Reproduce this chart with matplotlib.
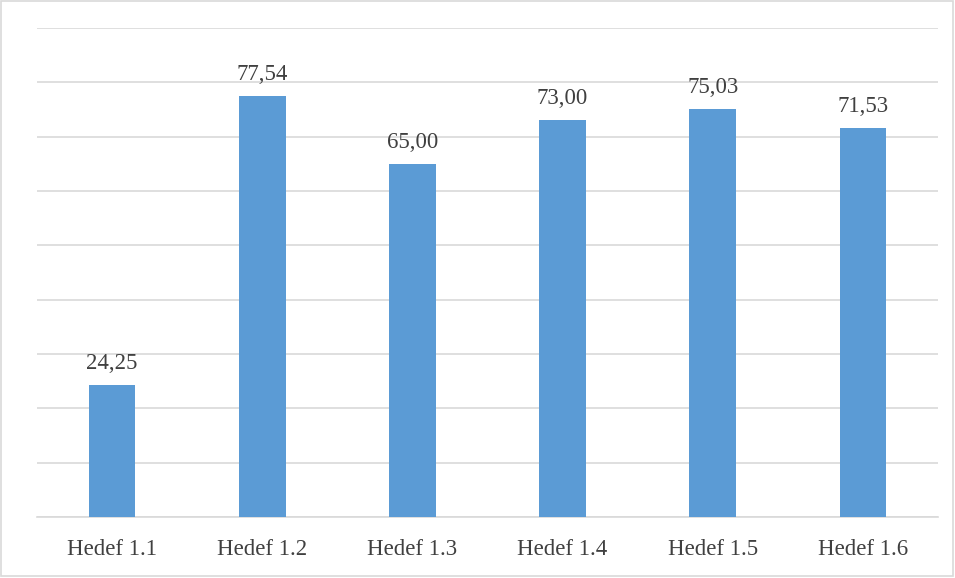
import matplotlib.pyplot as plt
from matplotlib.patches import Rectangle

####DATA####
categories = ['Hedef 1.1', 'Hedef 1.2', 'Hedef 1.3', 'Hedef 1.4', 'Hedef 1.5', 'Hedef 1.6']
values = [24.25, 77.54, 65.00, 73.00, 75.03, 71.53]
labels = ['24,25', '77,54', '65,00', '73,00', '75,03', '71,53']

plt.rcParams['font.family'] = ['Liberation Serif', 'DejaVu Serif']

####FIGURE####
fig = plt.figure(figsize=(9.55, 5.78), dpi=100)
ax = fig.add_axes([37/955, 61/578, 901/955, 489/578])

x = range(len(categories))
bars = ax.bar(x, values, width=0.31, color='#5B9BD5', zorder=3)

for b, lab in zip(bars, labels):
    ax.annotate(lab, (b.get_x() + b.get_width()/2, b.get_height()),
                xytext=(0, 8), textcoords='offset points',
                ha='center', va='bottom', fontsize=16.5, color='#404040')

ax.set_xlim(-0.5, 5.5)
ax.set_ylim(0, 90)
ax.set_yticks(range(0, 91, 10))
ax.yaxis.grid(True, color='#D9D9D9', linewidth=1.2, zorder=0)
ax.tick_params(axis='y', left=False, labelleft=False)
ax.tick_params(axis='x', bottom=False, labelsize=16.5, labelcolor='#404040', pad=12)
ax.set_xticks(list(x))
ax.set_xticklabels(categories)
for s in ['top', 'right', 'left']:
    ax.spines[s].set_visible(False)
ax.spines['bottom'].set_color('#D9D9D9')
ax.spines['bottom'].set_linewidth(1.2)

fig.patches.append(Rectangle((0.001, 0.004), 0.997, 0.994, transform=fig.transFigure,
                             fill=False, edgecolor='#D9D9D9', linewidth=1.2))

fig.savefig('out.png', dpi=100)
